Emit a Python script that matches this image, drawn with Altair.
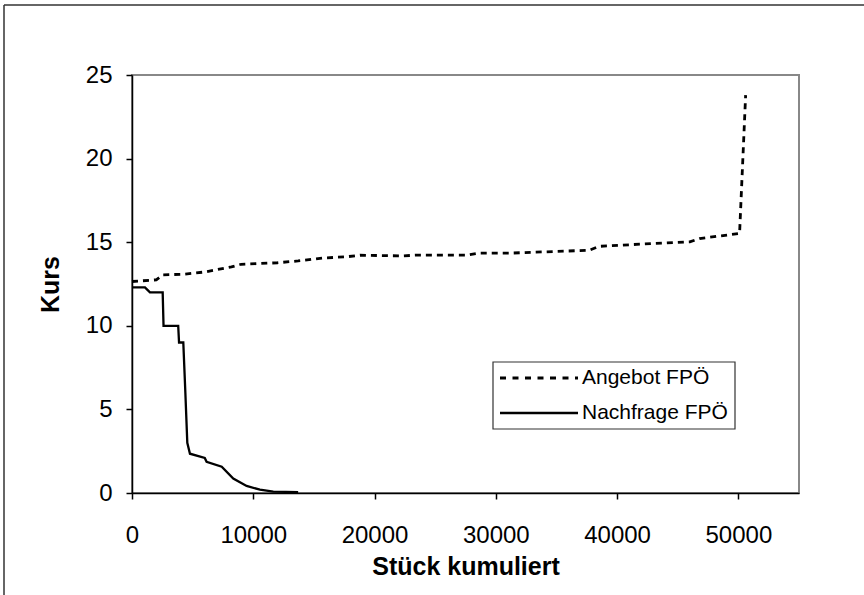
import altair as alt
import pandas as pd

# Angebot FPÖ (supply, dashed)
supply_x = [0, 2000, 2550, 4200, 6000, 8200, 9000, 12000, 13700, 15700, 17700, 18800,
            22300, 23500, 27600, 28700, 31300, 37700, 38500, 42900, 46000, 46800, 50100, 50600]
supply_y = [12.65, 12.75, 13.05, 13.08, 13.22, 13.52, 13.68, 13.77, 13.88, 14.05, 14.13, 14.22,
            14.18, 14.23, 14.23, 14.35, 14.35, 14.52, 14.75, 14.92, 15.02, 15.22, 15.52, 23.8]

# Nachfrage FPÖ (demand, solid)
demand_x = [0, 1070, 1480, 2530, 2600, 3810, 3880, 4230, 4400, 4560, 4780, 6000, 6150,
            7400, 8350, 9450, 10550, 11650, 13700]
demand_y = [12.3, 12.3, 12.0, 12.0, 10.0, 10.0, 9.0, 9.0, 6.0, 3.0, 2.35, 2.1, 1.87,
            1.57, 0.87, 0.42, 0.2, 0.08, 0.05]

x_ticks = [0, 10000, 20000, 30000, 40000, 50000]
y_ticks = [0, 5, 10, 15, 20, 25]
legend_labels = ["Angebot FPÖ", "Nachfrage FPÖ"]

FONT = "Liberation Sans"
W, H = 667, 418

supply = pd.DataFrame({"x": supply_x, "y": supply_y, "i": range(len(supply_x))})
demand = pd.DataFrame({"x": demand_x, "y": demand_y, "i": range(len(demand_x))})
one = pd.DataFrame({"a": [0]})

xenc = alt.X("x:Q", scale=alt.Scale(domain=[0, 55000], nice=False),
             axis=alt.Axis(values=x_ticks, format="d", title="Stück kumuliert",
                           labelPadding=24, titleX=W / 2, titleY=73,
                           titleBaseline="middle", titleAlign="center"))
yenc = alt.Y("y:Q", scale=alt.Scale(domain=[0, 25], nice=False),
             axis=alt.Axis(values=y_ticks, title="Kurs", labelPadding=14,
                           titleX=-82, titleY=H / 2, titleAngle=270,
                           titleAlign="center", titleBaseline="middle"))

supply_line = alt.Chart(supply).mark_line(color="black", strokeWidth=2.8, strokeDash=[6, 5]).encode(
    x=xenc, y=yenc, order="i:Q")
demand_line = alt.Chart(demand).mark_line(color="black", strokeWidth=2.3).encode(
    x=alt.X("x:Q"), y=alt.Y("y:Q"), order="i:Q")

leg_box = alt.Chart(one).mark_rect(fill="white", stroke="#333333", strokeWidth=1.2).encode(
    x=alt.value(361), x2=alt.value(603), y=alt.value(287), y2=alt.value(354))
leg_s1 = alt.Chart(one).mark_rule(color="black", strokeWidth=2.8, strokeDash=[6, 6.5]).encode(
    x=alt.value(368), x2=alt.value(446), y=alt.value(303))
leg_s2 = alt.Chart(one).mark_rule(color="black", strokeWidth=2.3).encode(
    x=alt.value(368), x2=alt.value(446), y=alt.value(338))
leg_t1 = alt.Chart(one).mark_text(align="left", baseline="middle", font=FONT, fontSize=21,
                                  color="black", text=legend_labels[0]).encode(
    x=alt.value(450), y=alt.value(303))
leg_t2 = alt.Chart(one).mark_text(align="left", baseline="middle", font=FONT, fontSize=21,
                                  color="black", text=legend_labels[1]).encode(
    x=alt.value(450), y=alt.value(338))

frame_top = alt.Chart(one).mark_rule(color="#333333", strokeWidth=1.5).encode(
    x=alt.value(-128), x2=alt.value(740), y=alt.value(-70))
frame_left = alt.Chart(one).mark_rule(color="#333333", strokeWidth=1.5).encode(
    x=alt.value(-128), y=alt.value(-70), y2=alt.value(530))

chart = alt.layer(
    supply_line, demand_line, leg_box, leg_s1, leg_s2, leg_t1, leg_t2, frame_top, frame_left
).properties(
    width=W, height=H,
    autosize=alt.AutoSizeParams(type="none"),
    padding={"left": 132, "top": 75, "right": 864 - 132 - W, "bottom": 595 - 75 - H},
    background="white",
).configure_view(
    stroke="#888888", strokeWidth=2
).configure_axis(
    grid=False, domainColor="black", domainWidth=1.5, tickColor="black", tickWidth=1.5,
    tickSize=6, labelFont=FONT, labelFontSize=24, labelColor="black",
    titleFont=FONT, titleFontSize=25, titleFontWeight="bold", titleColor="black",
    labelFlush=False, labelOverlap=False
)

chart.save("out.html", embed_options={"renderer": "svg", "actions": False})
